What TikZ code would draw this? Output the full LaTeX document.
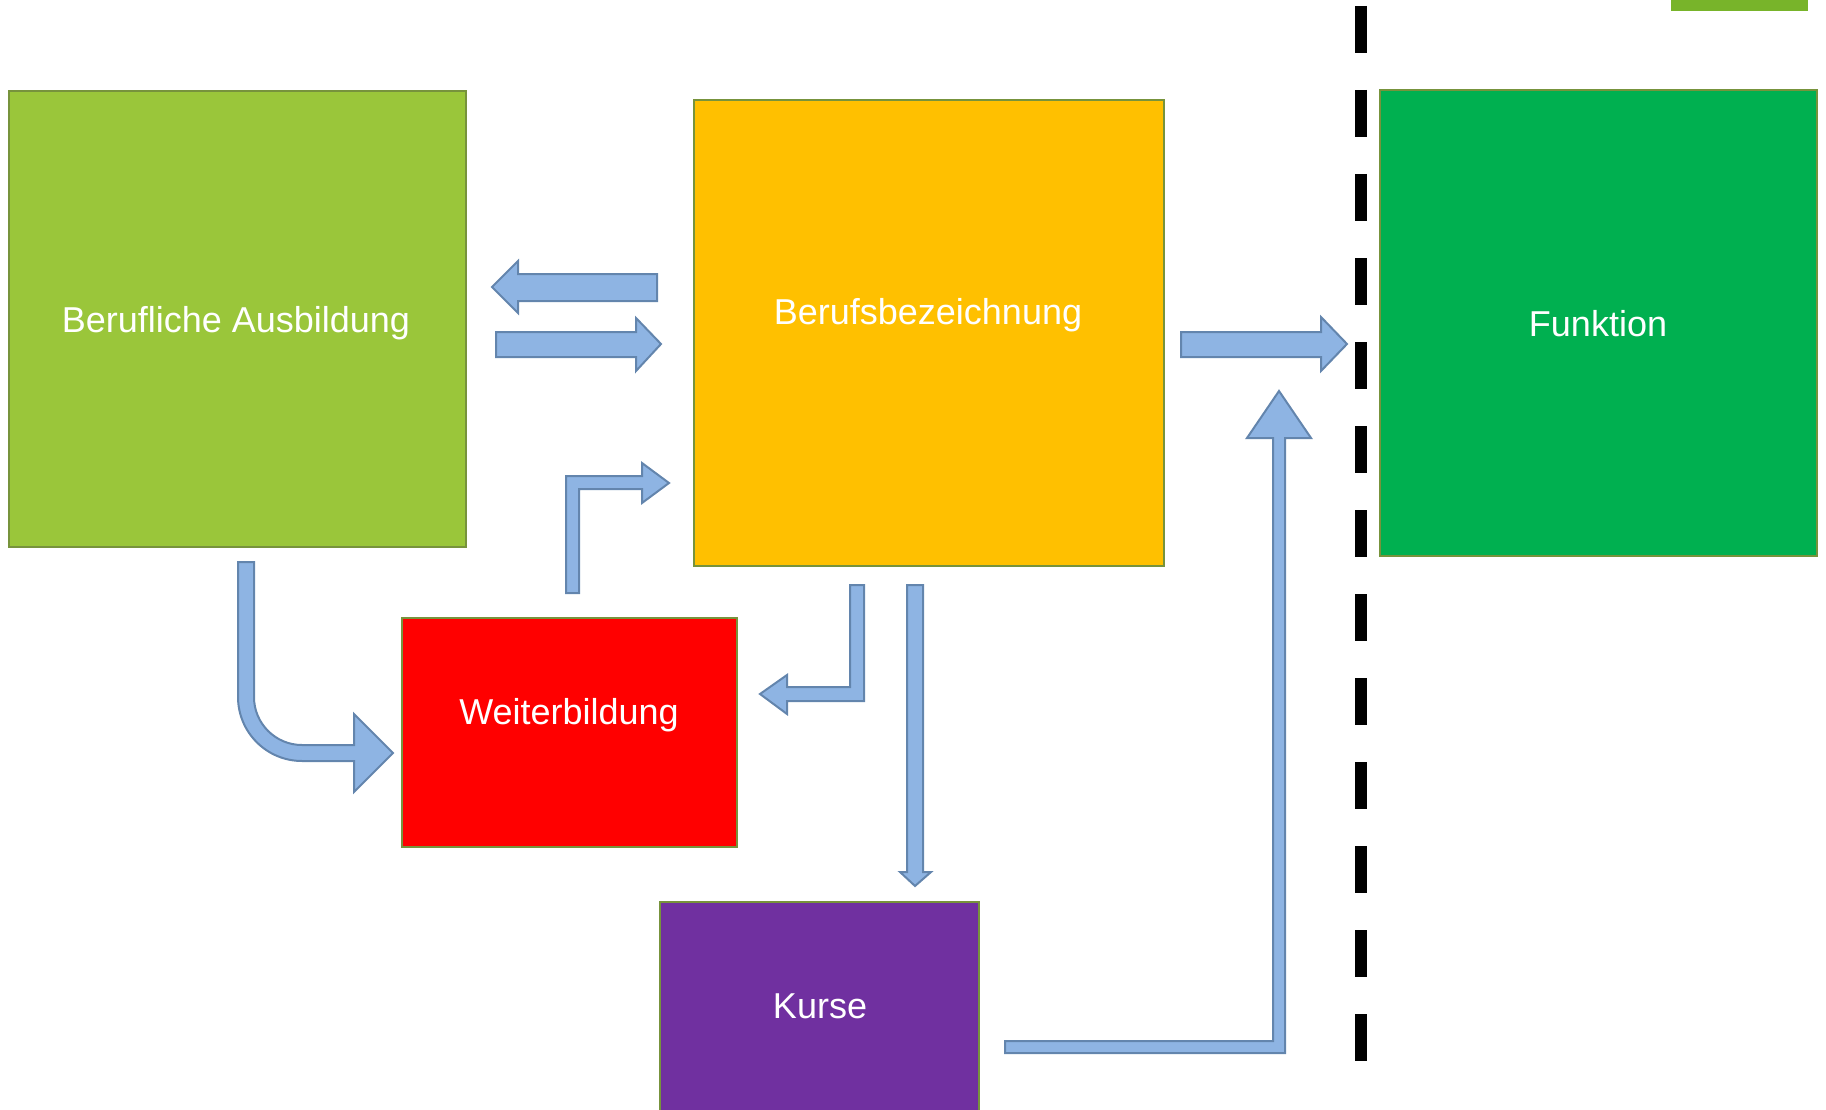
\documentclass[tikz,border=0pt]{standalone}
\usepackage{fontspec}
\setmainfont{Liberation Sans}
\definecolor{cAus}{HTML}{9AC63A}
\definecolor{cBer}{HTML}{FFC000}
\definecolor{cFun}{HTML}{00B050}
\definecolor{cWei}{HTML}{FF0000}
\definecolor{cKur}{HTML}{7030A0}
\definecolor{cBar}{HTML}{78B42A}
\definecolor{cEdge}{HTML}{77933C}
\definecolor{arrFill}{HTML}{8EB4E3}
\definecolor{arrEdge}{HTML}{6385AD}
\tikzset{
  box/.style={draw=cEdge, line width=2.2pt, rectangle, inner sep=0pt, outer sep=0pt},
  lbl/.style={text=white, font=\fontsize{36}{43}\selectfont, anchor=base, inner sep=0pt},
  blockarrow/.style={fill=arrFill, draw=arrEdge, line width=2pt, line join=miter},
  divider/.style={line width=12pt, black, dash pattern=on 47pt off 37pt}
}
\begin{document}
\begin{tikzpicture}[x=1pt,y=-1pt]
\useasboundingbox (0,0) rectangle (1826,1110);
% boxes
\node[box, fill=cAus, minimum width=457pt, minimum height=456pt] (aus) at (237.5,319) {};
\node[box, fill=cBer, minimum width=470pt, minimum height=466pt] (ber) at (929,333) {};
\node[box, fill=cFun, minimum width=437pt, minimum height=466pt] (fun) at (1598.5,323) {};
\node[box, fill=cWei, minimum width=335pt, minimum height=229pt] (wei) at (569.5,732.5) {};
\node[box, fill=cKur, minimum width=319pt, minimum height=215pt] (kur) at (819.5,1009.5) {};
\fill[cBar] (1671,-5) rectangle (1808,11);
% labels
\node[lbl] (ausT) at (236,332) {Berufliche Ausbildung};
\node[lbl] (berT) at (928,324) {Berufsbezeichnung};
\node[lbl] (funT) at (1598,336) {Funktion};
\node[lbl] (weiT) at (569,724) {Weiterbildung};
\node[lbl] (kurT) at (820,1018) {Kurse};
% divider
\coordinate (dTop) at (1361,6);
\coordinate (dBot) at (1361,1061);
\draw[divider] (dTop) -- (dBot);
% block arrows
\draw[blockarrow] (492,287) -- (518,261) -- (518,274) -- (657,274) -- (657,301) -- (518,301) -- (518,313) -- cycle;
\draw[blockarrow] (496,332) -- (636,332) -- (636,318) -- (661,344) -- (636,371) -- (636,357) -- (496,357) -- cycle;
\draw[blockarrow] (1181,332) -- (1321,332) -- (1321,317) -- (1347,344) -- (1321,371) -- (1321,357) -- (1181,357) -- cycle;
\draw[blockarrow] (238,562) -- (238,697) .. controls (238,732.3) and (266.7,761) .. (302,761) -- (354,761) -- (354,792) -- (393,753) -- (354,714) -- (354,745) -- (302,745) .. controls (275.5,745) and (254,723.5) .. (254,697) -- (254,562) -- cycle;
\draw[blockarrow] (566,593) -- (566,476) -- (642,476) -- (642,463) -- (669,483) -- (642,503) -- (642,489) -- (579,489) -- (579,593) -- cycle;
\draw[blockarrow] (850,585) -- (864,585) -- (864,701) -- (787,701) -- (787,714) -- (760,694) -- (787,675) -- (787,687) -- (850,687) -- cycle;
\draw[blockarrow] (907,585) -- (923,585) -- (923,872) -- (931,872) -- (915,886) -- (900,872) -- (907,872) -- cycle;
\draw[blockarrow] (1005,1041) -- (1273,1041) -- (1273,438) -- (1247,438) -- (1279,391) -- (1311,438) -- (1285,438) -- (1285,1053) -- (1005,1053) -- cycle;
\end{tikzpicture}
\end{document}
